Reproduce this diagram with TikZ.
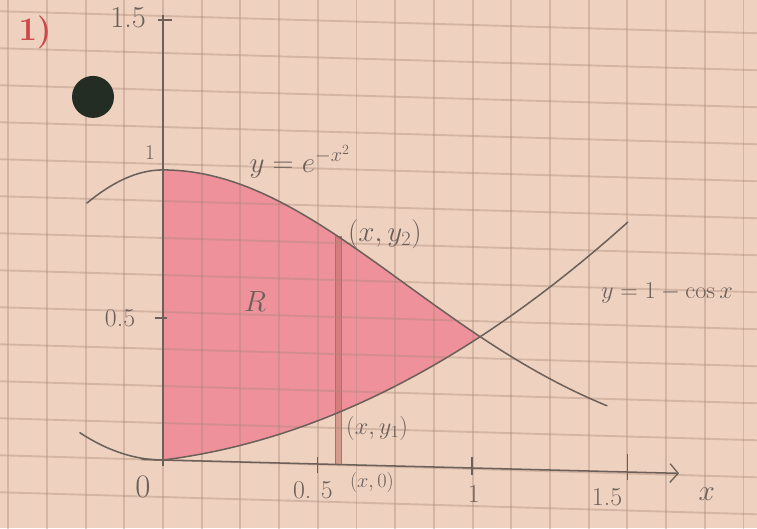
\documentclass[tikz,border=0pt]{standalone}
\usepackage{amsmath}
\usetikzlibrary{arrows.meta}
\definecolor{paper}{RGB}{238,209,191}
\definecolor{gridline}{RGB}{170,135,120}
\definecolor{pencil}{RGB}{108,96,90}
\definecolor{pinkfill}{RGB}{238,145,154}
\definecolor{stripc}{RGB}{190,105,95}
\definecolor{redpen}{RGB}{205,72,72}
\definecolor{holec}{RGB}{35,45,35}
\tikzset{
	curve/.style={pencil, line width=1.3pt, line cap=round},
	axis/.style={pencil, line width=1.3pt},
	lbl/.style={text=pencil, inner sep=0pt, font=\fontsize{22}{24}\selectfont},
	tick/.style={pencil, line width=1.1pt},
	gridln/.style={gridline, opacity=0.38, line width=1.6pt}
}
\begin{document}
\begin{tikzpicture}[x=9.27cm, y=8.7cm]
	\useasboundingbox (-0.5275,-0.2345) rectangle (1.9223,1.5862);
	\fill[paper] (-0.5275,-0.2345) rectangle (1.9223,1.5862);
	\begin{scope}
	\clip (-0.5275,-0.2345) rectangle (1.9223,1.5862);
	% region R
	\begin{scope}
		\clip (0,-0.3) rectangle (1.2,1.3);
		\clip plot[domain=-0.3:1.6, samples=80, smooth] (\x, {exp(-(\x<0 ? 2 : 0.812)*\x*\x)}) -- (1.6,-0.3) -- (-0.3,-0.3) -- cycle;
		\fill[pinkfill] plot[domain=-0.3:1.6, samples=80, smooth] (\x, {\x<0 ? 1.3*\x*\x : 0.2743*\x*\x+0.1327*\x}) -- (1.6,1.3) -- (-0.3,1.3) -- cycle;
		\fill[stripc, opacity=0.5] (0.557,-0.015) rectangle (0.579,0.770);
	\end{scope}
	% strip
	\draw[stripc, line width=0.9pt] (0.557,-0.015) rectangle (0.579,0.770);
	% grid paper
	\foreach \k in {-4,...,15}
		\draw[gridln] ({\k*0.12524},-0.3) -- ({\k*0.12524},1.7);
	\foreach \j in {-1,...,12}
		\draw[gridln] (-0.53,{\j*0.1276+0.0164}) -- (1.93,{\j*0.1276-0.0598});
	\end{scope}

	\fill[holec] (-0.2265,1.252) circle (0.63cm);
	\node[text=redpen, inner sep=0pt, font=\fontsize{28}{30}\selectfont\bfseries] (num) at (-0.414,1.476) {1)};

	% axes
	\coordinate (O) at (0,0);
	\coordinate (ytop) at (0,1.534);
	\coordinate (ybot) at (0,-0.02);
	\coordinate (xl) at (-0.07,0.002);
	\coordinate (xr) at (1.67,-0.046);
	\draw[axis] (ybot) -- (ytop);
	\draw[axis, -{Straight Barb[length=7pt, width=16pt, line width=1.1pt]}] (xl) -- (xr);
	\draw[tick] (-0.016,1.517) -- (0.03,1.517);
	\draw[tick] (-0.026,0.49) -- (0.012,0.49);
	\draw[tick] (0.500,0.01) -- (0.500,-0.045);
	\draw[tick] (1.0,0.01) -- (1.0,-0.05);
	\draw[tick] (1.503,0.02) -- (1.503,-0.07);

	% curves
	\draw[curve] plot[domain=-0.246:1.437, samples=80, smooth] (\x, {exp(-(\x<0 ? 2 : 0.812)*\x*\x)});
	\draw[curve] plot[domain=-0.269:1.505, samples=80, smooth] (\x, {\x<0 ? 1.3*\x*\x : 0.2743*\x*\x+0.1327*\x});

	% labels
	\node[lbl, font=\fontsize{26}{28}\selectfont] (y15) at (-0.113,1.524) {1.5};
	\node[lbl, font=\fontsize{18}{20}\selectfont] (y1) at (-0.042,1.059) {1};
	\node[lbl] (y05) at (-0.139,0.490) {0.5};
	\node[lbl, font=\fontsize{28}{30}\selectfont] (x0) at (-0.065,-0.093) {0};
	\node[lbl] (x05) at (0.485,-0.103) {0.\hspace{8pt}5};
	\node[lbl, font=\fontsize{17}{19}\selectfont] (p0) at (0.676,-0.076) {$(x,0)$};
	\node[lbl] (x1) at (1.006,-0.117) {1};
	\node[lbl] (x15) at (1.437,-0.128) {1.5};
	\node[lbl, font=\fontsize{28}{30}\selectfont] (xlab) at (1.760,-0.117) {$x$};
	\node[lbl, font=\fontsize{26}{28}\selectfont] (f) at (0.443,1.028) {$y=e^{-x^2}$};
	\node[lbl, font=\fontsize{24}{26}\selectfont] (p2) at (0.718,0.779) {$(x,y_2)$};
	\node[lbl, font=\fontsize{20}{22}\selectfont] (p1) at (0.693,0.110) {$(x,y_1)$};
	\node[lbl, font=\fontsize{38}{40}\selectfont] (R) at (0.298,0.545) {$R$};
	\node[lbl] (g) at (1.631,0.576) {$y=1-\cos x$};
\end{tikzpicture}
\end{document}
